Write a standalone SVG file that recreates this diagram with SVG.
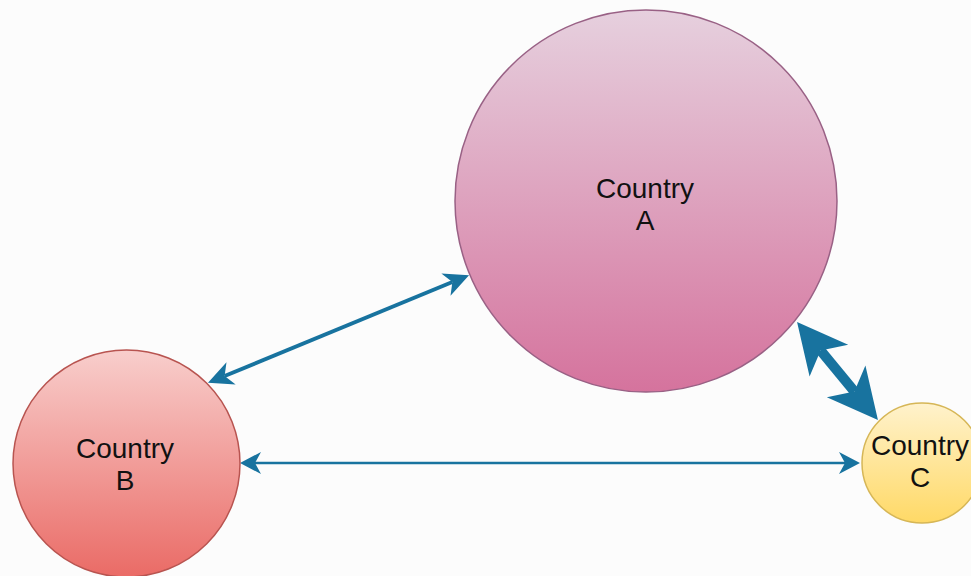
<svg xmlns="http://www.w3.org/2000/svg" width="971" height="576" viewBox="0 0 971 576">
  <defs>
    <linearGradient id="gradA" x1="0" y1="0" x2="0" y2="1">
      <stop offset="0" stop-color="#e6d0de"/>
      <stop offset="1" stop-color="#d5739d"/>
    </linearGradient>
    <linearGradient id="gradB" x1="0" y1="0" x2="0" y2="1">
      <stop offset="0" stop-color="#f8cecc"/>
      <stop offset="1" stop-color="#ea6b66"/>
    </linearGradient>
    <linearGradient id="gradC" x1="0" y1="0" x2="0" y2="1">
      <stop offset="0" stop-color="#fff2cc"/>
      <stop offset="1" stop-color="#ffd966"/>
    </linearGradient>
    <!-- classic notched arrowheads; refX sits on the notch so the shaft ends inside the head -->
    <marker id="headM" markerUnits="userSpaceOnUse" orient="auto-start-reverse" refX="7" refY="0" markerWidth="30" markerHeight="30" overflow="visible">
      <path d="M0,-12 L25,0 L0,12 L7,0 Z" fill="#18739f"/>
    </marker>
    <marker id="headS" markerUnits="userSpaceOnUse" orient="auto-start-reverse" refX="6" refY="0" markerWidth="30" markerHeight="30" overflow="visible">
      <path d="M0,-11 L21,0 L0,11 L6,0 Z" fill="#18739f"/>
    </marker>
    <marker id="headL" markerUnits="userSpaceOnUse" orient="auto-start-reverse" refX="13" refY="0" markerWidth="60" markerHeight="60" overflow="visible">
      <path d="M0,-25 L50,0 L0,25 L13,0 Z" fill="#18739f"/>
    </marker>
  </defs>
  <style>
    .node { stroke-width: 1.5; }
    .label { font-family: "Liberation Sans", Arial, Helvetica, sans-serif; font-size: 28px; fill: #111111; text-anchor: middle; }
    .edge { stroke: #18739f; fill: none; }
  </style>

  <rect x="0" y="0" width="971" height="576" fill="#fcfcfc"/>

  <g id="connectors">
    <line class="edge" x1="224.6" y1="376" x2="452.4" y2="282" stroke-width="4" marker-start="url(#headM)" marker-end="url(#headM)"/>
    <line class="edge" x1="255" y1="463" x2="845" y2="463" stroke-width="2.5" marker-start="url(#headS)" marker-end="url(#headS)"/>
    <line class="edge" x1="820.6" y1="350.5" x2="854.4" y2="391.5" stroke-width="10" marker-start="url(#headL)" marker-end="url(#headL)"/>
  </g>

  <g id="country-a">
    <circle class="node" cx="646" cy="201" r="191" fill="url(#gradA)" stroke="#996185"/>
    <text class="label" x="645" y="198">Country</text>
    <text class="label" x="645" y="230">A</text>
  </g>

  <g id="country-b">
    <circle class="node" cx="126.5" cy="463.5" r="113.5" fill="url(#gradB)" stroke="#b85450"/>
    <text class="label" x="125" y="458">Country</text>
    <text class="label" x="125" y="490">B</text>
  </g>

  <g id="country-c">
    <circle class="node" cx="922" cy="463" r="60" fill="url(#gradC)" stroke="#d6b656"/>
    <text class="label" x="920" y="455">Country</text>
    <text class="label" x="920" y="487">C</text>
  </g>
</svg>
